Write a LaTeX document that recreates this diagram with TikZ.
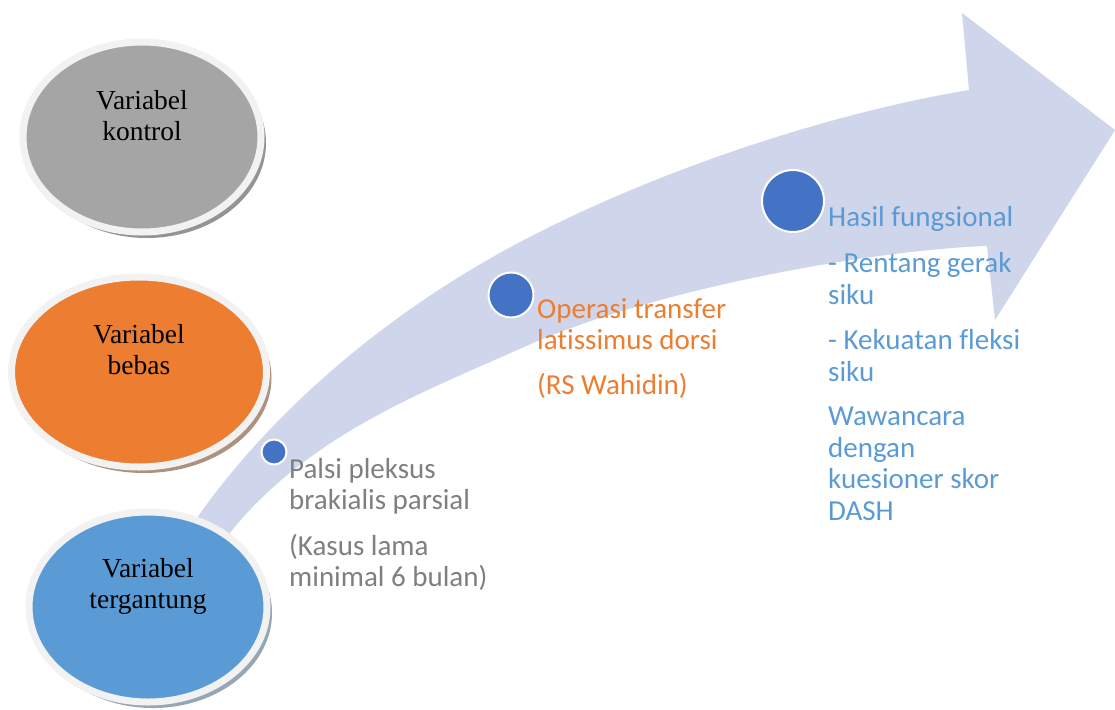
\documentclass[tikz,border=0pt]{standalone}
\usepackage{fontspec}
\usepackage{xcolor}
\usepackage{tikz}
\usetikzlibrary{shapes.geometric,shadows}
\newfontfamily\ellfont{Liberation Serif}
\newfontfamily\stepfont[Ligatures=NoCommon]{Carlito}
\definecolor{arrowfill}{HTML}{CFD5EA}
\definecolor{ringwhite}{HTML}{F2F2F2}
\definecolor{dotblue}{HTML}{4472C4}
\definecolor{kontrolgray}{HTML}{A5A5A5}
\definecolor{bebasorange}{HTML}{ED7D31}
\definecolor{tergblue}{HTML}{5B9BD5}
\definecolor{textgray}{HTML}{7F7F7F}
\tikzstyle{varring}=[ellipse, draw=ringwhite, line width=7pt, minimum height=190pt, inner sep=0pt]
\tikzstyle{vartext}=[font=\ellfont\fontsize{27.5}{31}\selectfont, align=center, inner sep=0pt]
\tikzstyle{stepdot}=[circle, fill=dotblue, draw=white, line width=2pt, inner sep=0pt]
\tikzstyle{steptext}=[font=\stepfont\fontsize{29}{31.5}\selectfont, align=left, anchor=north west, inner sep=0pt]
\tikzset{varshadow/.style={drop shadow={shadow xshift=5pt, shadow yshift=-6pt, fill=#1, opacity=1}}}

\begin{document}
\begin{tikzpicture}[x=1pt,y=-1pt]
\useasboundingbox (0,0) rectangle (1115,709);

% curved arrow
\fill[arrowfill] (170,560) .. controls (240,440) and (370,320) .. (524,240)
  .. controls (650,174) and (820,115) .. (969,90) -- (962,13) -- (1115,130)
  -- (995,320) -- (987,246) .. controls (870,250) and (650,290) .. (524,347)
  .. controls (420,394) and (290,440) .. (210,560) -- cycle;

% variables
\node[varring, minimum width=238pt, fill=kontrolgray, varshadow=black!42] (kontrol) at (142,137) {};
\node[varring, minimum width=255pt, fill=bebasorange, varshadow=bebasorange!45!black!55] (bebas) at (139,372) {};
\node[varring, minimum width=238pt, fill=tergblue, varshadow=tergblue!50!black!50] (tergantung) at (148,607) {};

\node[vartext] (kontroltext) at ([yshift=21pt]kontrol.center) {Variabel\\kontrol};
\node[vartext] (bebastext) at ([yshift=22pt]bebas.center) {Variabel\\bebas};
\node[vartext] (tergantungtext) at ([yshift=21pt]tergantung.center) {Variabel\\tergantung};

% steps
\node[stepdot, minimum size=25pt] (palsidot) at (274,452) {};
\node[stepdot, minimum size=45pt] (operasidot) at (511,295) {};
\node[stepdot, minimum size=62pt] (hasildot) at (793,201) {};

\node[steptext, text=textgray] (palsi) at (289,458)
  {Palsi pleksus\\brakialis parsial\\[14pt](Kasus lama\\minimal 6 bulan)};
\node[steptext, text=bebasorange] (operasi) at (537,298)
  {Operasi transfer\\latissimus dorsi\\[13pt](RS Wahidin)};
\node[steptext, text=tergblue] (hasil) at (828,206)
  {Hasil fungsional\\[15pt]- Rentang gerak\\siku\\[14pt]- Kekuatan fleksi\\siku\\[13pt]Wawancara\\dengan\\kuesioner skor\\DASH};

\end{tikzpicture}
\end{document}
